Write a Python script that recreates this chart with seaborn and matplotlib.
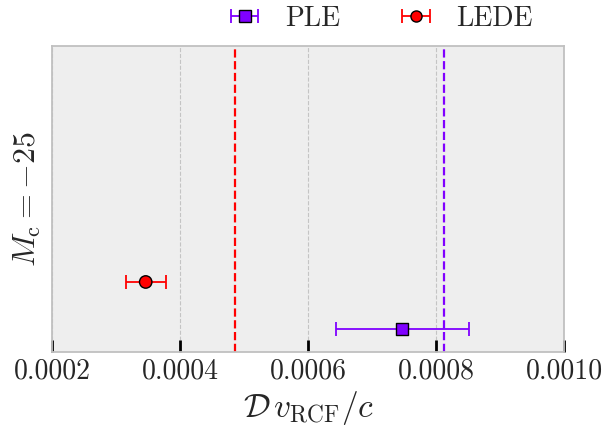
import matplotlib
matplotlib.use("Agg")
import matplotlib.pyplot as plt
import seaborn as sns
import numpy as np
import pandas as pd
from matplotlib.ticker import FixedLocator, FixedFormatter

# ---- data ----
methods = ["PLE", "LEDE"]
values = [0.000747, 0.000346]
errors = [0.000104, 0.000031]
ypos = [0.0, 1.0]
vlines = [0.000813, 0.000485]
colors = ["#8000ff", "#ff0000"]
markers = ["s", "o"]
xticks = [0.0002, 0.0004, 0.0006, 0.0008, 0.0010]
xticklabels = ["0.0002", "0.0004", "0.0006", "0.0008", "0.0010"]

sns.set_style("white", {"axes.facecolor": "#eeeeee"})
plt.rcParams["font.family"] = "serif"
plt.rcParams["font.serif"] = ["cmr10"]
plt.rcParams["mathtext.fontset"] = "cm"
plt.rcParams["axes.unicode_minus"] = True

fig = plt.figure(figsize=(6.14, 4.30), dpi=100)
ax = fig.add_axes([0.0852, 1 - 351.5 / 430, (564 - 52.3) / 614, (351.5 - 45.5) / 430])
ax.set_facecolor("#eeeeee")

df = pd.DataFrame({"method": methods, "value": values, "err": errors, "y": ypos})

for i, row in df.iterrows():
    ax.errorbar(row["value"], row["y"], xerr=row["err"], fmt="none",
                ecolor=colors[i], elinewidth=1.3, capsize=5, capthick=1.3,
                zorder=3)
    ax.axvline(vlines[i], color=colors[i], ls="--", lw=1.6, zorder=2)

sns.scatterplot(data=df, x="value", y="y", hue="method", style="method",
                palette=colors, markers=dict(zip(methods, markers)),
                s=80, edgecolor="black", linewidth=1.0, zorder=4,
                legend=False, ax=ax)

# legend handles (errorbar style)
handles = []
for i, m in enumerate(methods):
    h = ax.errorbar([np.nan], [np.nan], xerr=[[1e-5], [1e-5]], fmt=markers[i],
                    color=colors[i], mfc=colors[i], mec="black", ms=8,
                    elinewidth=1.3, capsize=5, capthick=1.3, label=m)
    handles.append(h)
leg = ax.legend(handles=handles, labels=methods, loc="lower center",
                bbox_to_anchor=(0.64, 1.0), ncol=2, frameon=False,
                fontsize=20, handlelength=1.3, handletextpad=0.8,
                columnspacing=2.1, borderaxespad=0.1)

ax.set_xlim(0.0002, 0.0010)
ax.set_ylim(-0.47, 6.0)
ax.xaxis.set_major_locator(FixedLocator(xticks))
ax.xaxis.set_major_formatter(FixedFormatter(xticklabels))
ax.set_yticks([])
ax.grid(axis="x", color="#c4c4c4", ls="--", lw=0.8, zorder=1)
ax.set_axisbelow(True)
ax.tick_params(axis="x", direction="in", length=8.5, width=2.0,
               color="black", labelsize=20, pad=5, bottom=True)
mt = ax.xaxis.get_major_ticks()
for t in (mt[0], mt[-1]):
    t.tick1line.set_color("#777777")
for s in ax.spines.values():
    s.set_color("#c0c0c0")
    s.set_linewidth(1.3)

ax.set_xlabel(r"$\mathcal{D}\,v_{\rm RCF}/c$", fontsize=24, labelpad=3)
ax.set_ylabel(r"$M_{\rm c} = -25$", fontsize=23, labelpad=7)

fig.savefig("out.png", dpi=100)
